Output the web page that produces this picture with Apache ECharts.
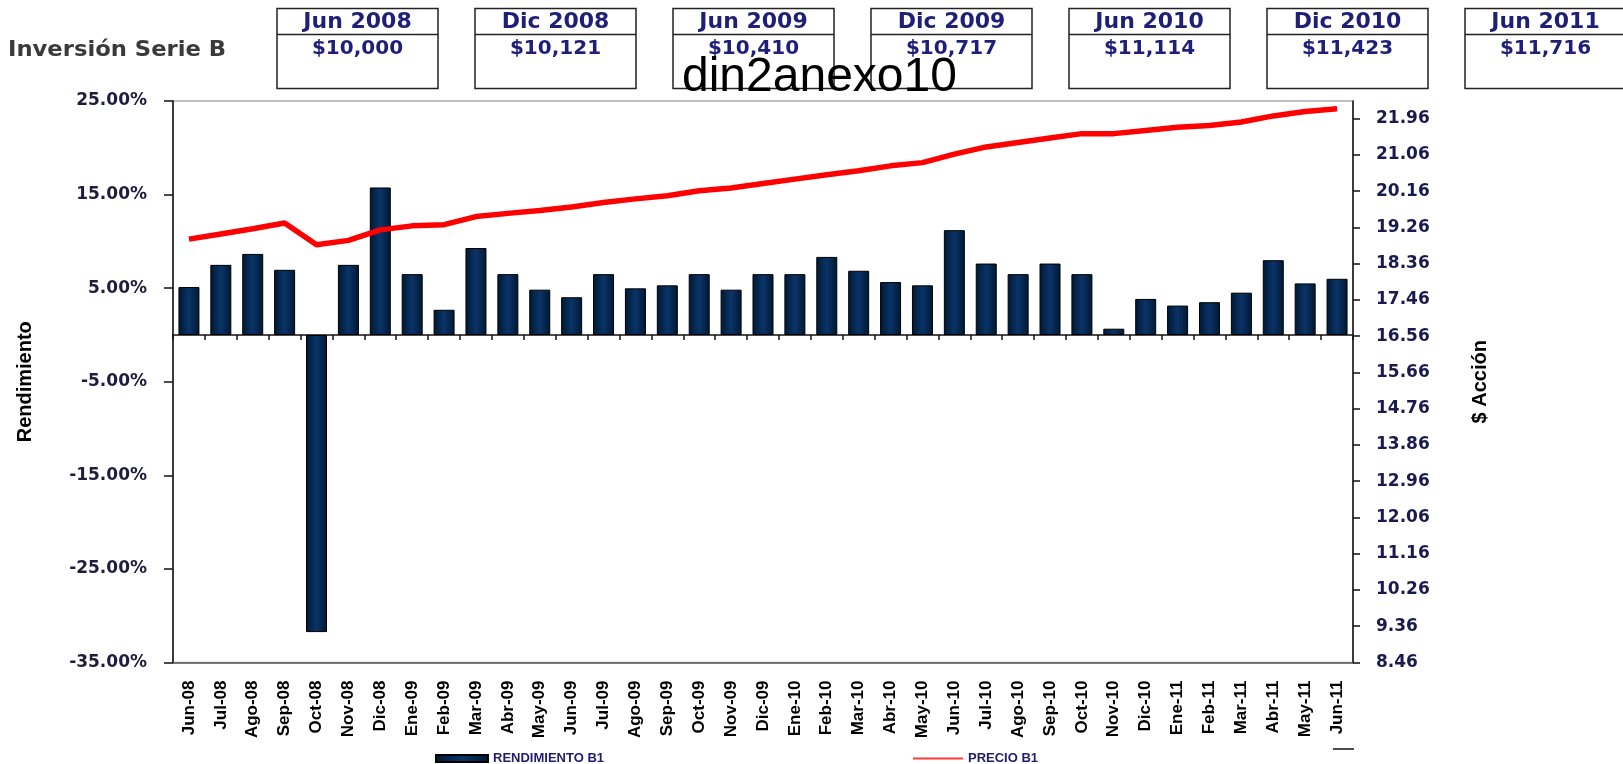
<!DOCTYPE html>
<html><head><meta charset="utf-8">
<script src="https://cdn.jsdelivr.net/npm/echarts@6/dist/echarts.min.js"></script>
<style>html,body{margin:0;padding:0;background:#fff}#c{width:1623px;height:764px}</style>
</head><body><div id="c"></div>
<script>
const months = ['Jun-08','Jul-08','Ago-08','Sep-08','Oct-08','Nov-08','Dic-08','Ene-09','Feb-09','Mar-09','Abr-09','May-09','Jun-09','Jul-09','Ago-09','Sep-09','Oct-09','Nov-09','Dic-09','Ene-10','Feb-10','Mar-10','Abr-10','May-10','Jun-10','Jul-10','Ago-10','Sep-10','Oct-10','Nov-10','Dic-10','Ene-11','Feb-11','Mar-11','Abr-11','May-11','Jun-11'];
const rendimiento = [5.12, 7.49, 8.66, 6.96, -31.75, 7.49, 15.76, 6.5, 2.69, 9.29, 6.5, 4.84, 4.03, 6.5, 4.98, 5.3, 6.5, 4.84, 6.5, 6.5, 8.34, 6.86, 5.65, 5.3, 11.2, 7.63, 6.5, 7.63, 6.5, 0.67, 3.85, 3.14, 3.5, 4.52, 7.99, 5.51, 6.0];
const precio = [18.97, 19.10, 19.23, 19.37, 18.83, 18.94, 19.20, 19.30, 19.33, 19.53, 19.61, 19.68, 19.77, 19.88, 19.97, 20.05, 20.17, 20.24, 20.35, 20.46, 20.57, 20.67, 20.79, 20.87, 21.08, 21.26, 21.37, 21.48, 21.59, 21.59, 21.67, 21.75, 21.79, 21.88, 22.03, 22.14, 22.21];
const boxDates = ['Jun 2008','Dic 2008','Jun 2009','Dic 2009','Jun 2010','Dic 2010','Jun 2011'];
const boxValues = ['$10,000','$10,121','$10,410','$10,717','$11,114','$11,423','$11,716'];
const seriesNames = ['RENDIMIENTO B1','PRECIO B1'];
const leftAxisName = 'Rendimiento';
const rightAxisName = '$ Acción';
const headerLabel = 'Inversión Serie B';
const titleText = 'din2anexo10';

const chart = echarts.init(document.getElementById('c'), null, {renderer:'canvas'});

const graphics = [];
graphics.push({type:'text', x:8, y:50.5, scaleX:1.08, z:50,
  style:{text:headerLabel, fontFamily:'DejaVu Sans', fontWeight:'bold', fontSize:21, fill:'#3a3a3a', align:'left', verticalAlign:'middle'}});
boxDates.forEach((d,i)=>{
  const x0 = 277 + 198*i, w = 161;
  graphics.push({type:'rect', z:50, shape:{x:x0, y:8.5, width:w, height:80}, style:{fill:'none', stroke:'#222', lineWidth:1.5}});
  graphics.push({type:'line', z:50, shape:{x1:x0, y1:34.5, x2:x0+w, y2:34.5}, style:{stroke:'#222', lineWidth:1.5}});
  graphics.push({type:'text', z:51, x:x0+w/2, y:22.5,
    style:{text:d, fontFamily:'DejaVu Sans', fontWeight:'bold', fontSize:22, fill:'#1f1f7a', align:'center', verticalAlign:'middle'}});
  graphics.push({type:'text', z:51, x:x0+w/2, y:49,
    style:{text:boxValues[i], fontFamily:'DejaVu Sans', fontWeight:'bold', fontSize:20, fill:'#1f1f7a', align:'center', verticalAlign:'middle'}});
});
graphics.push({type:'text', z:100, x:682, y:78,
  style:{text:titleText, fontFamily:'Liberation Sans', fontSize:48, fill:'#000', align:'left', verticalAlign:'middle'}});
graphics.push({type:'line', z:50, shape:{x1:1333, y1:749, x2:1354, y2:749}, style:{stroke:'#111', lineWidth:1.5}});

const barGrad = new echarts.graphic.LinearGradient(0,0,1,0,[
  {offset:0, color:'#001833'},{offset:0.5, color:'#0a3468'},{offset:1, color:'#001833'}]);

const option = {
  animation:false,
  backgroundColor:'#fff',
  grid:{left:173, right:270, top:101, bottom:101.5, containLabel:false, outerBoundsMode:'none',
    show:true, borderColor:'#aaa', borderWidth:1.5},
  legend:[
    {data:[seriesNames[0]], left:435, top:752, itemWidth:52, itemHeight:7, icon:'rect', itemGap:5, padding:0,
      textStyle:{fontFamily:'Liberation Sans', fontWeight:'bold', fontSize:13, color:'#1e1e6e'}},
    {data:[{name:seriesNames[1], itemStyle:{color:'#ff3b3b'}}], left:913, top:752, itemWidth:50, itemHeight:2, icon:'rect', padding:0,
      textStyle:{fontFamily:'Liberation Sans', fontWeight:'bold', fontSize:13, color:'#1e1e6e'}}
  ],
  xAxis:[
    {type:'category', data:months, position:'bottom', axisLine:{onZero:false, lineStyle:{color:'#555', width:1.5}},
      axisTick:{show:false},
      axisLabel:{interval:0, rotate:90, margin:18, fontFamily:'Liberation Sans', fontWeight:'bold', fontSize:17, color:'#000'},
      splitLine:{show:false}},
    {type:'category', data:months, position:'bottom', axisLine:{onZero:true, onZeroAxisIndex:0, lineStyle:{color:'#111', width:1.5}},
      axisTick:{show:true, interval:0, length:5, lineStyle:{color:'#111', width:1.5}},
      axisLabel:{show:false}, splitLine:{show:false}}
  ],
  yAxis:[
    {type:'value', min:-35, max:25, interval:10, position:'left',
      name:leftAxisName, nameLocation:'middle', nameRotate:90, nameGap:138,
      nameTextStyle:{fontFamily:'Liberation Sans', fontWeight:'bold', fontSize:20, color:'#000'},
      axisLine:{show:true, lineStyle:{color:'#111', width:1.5}},
      axisTick:{show:true, length:9, lineStyle:{color:'#111', width:1.5}},
      axisLabel:{margin:26, formatter:v=>v.toFixed(2)+'%', fontFamily:'DejaVu Sans', fontWeight:'bold', fontSize:17, color:'#1e1e3c'},
      splitLine:{show:false}},
    {type:'value', min:8.46, max:22.4, interval:0.9, position:'right',
      name:rightAxisName, nameLocation:'middle', nameRotate:90, nameGap:117,
      nameTextStyle:{fontFamily:'Liberation Sans', fontWeight:'bold', fontSize:20, color:'#000'},
      axisLine:{show:true, lineStyle:{color:'#111', width:1.5}},
      axisTick:{show:true, length:7, lineStyle:{color:'#111', width:1.5}},
      axisLabel:{margin:23, showMaxLabel:false, formatter:v=>v.toFixed(2), fontFamily:'DejaVu Sans', fontWeight:'bold', fontSize:17, color:'#1a1a50'},
      splitLine:{show:false}}
  ],
  series:[
    {type:'bar', name:seriesNames[0], xAxisIndex:0, yAxisIndex:0, data:rendimiento, barWidth:21,
      itemStyle:{color:barGrad, borderColor:'#000', borderWidth:1}, z:2},
    {type:'line', name:seriesNames[1], xAxisIndex:0, yAxisIndex:1, data:precio, symbol:'none', showSymbol:false,
      lineStyle:{color:'#ff0000', width:5.5}, itemStyle:{color:'#ff0000'}, z:3}
  ],
  graphic:graphics
};
chart.setOption(option);
</script></body></html>
